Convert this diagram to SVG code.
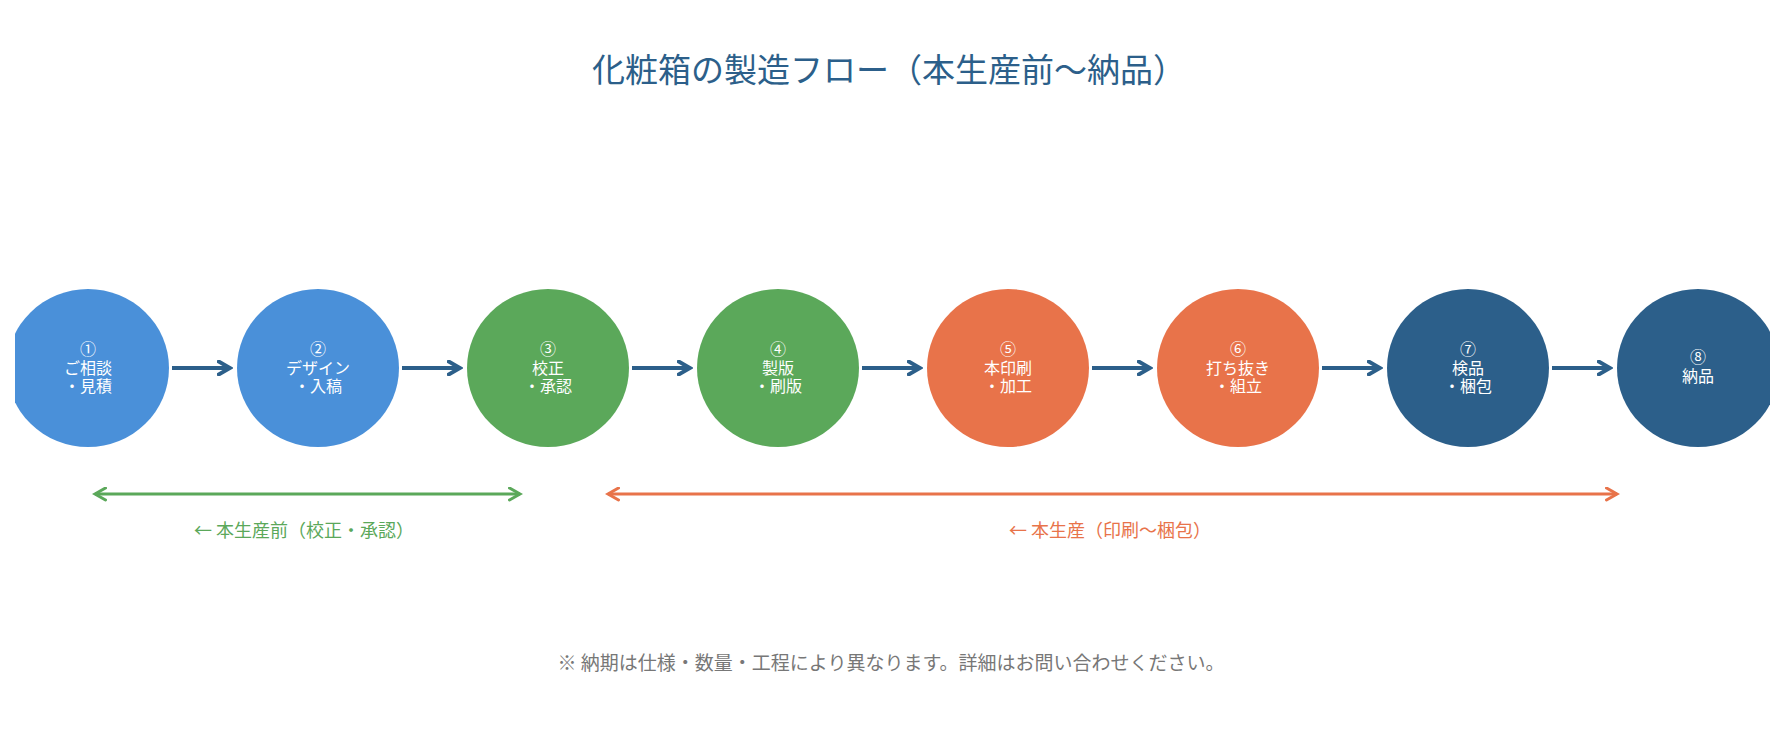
<svg xmlns="http://www.w3.org/2000/svg" width="1785" height="735" viewBox="0 0 1785 735">
<style>
text{font-family:"Noto Sans CJK JP","Noto Sans",sans-serif}
.n{fill:#fff;font-size:16px;text-anchor:middle}
.b{fill:#4a90d9}.g{fill:#5ba85a}.o{fill:#e8734a}.d{fill:#2c5f8a}
.ar{stroke:#2c5f8a;stroke-width:4;fill:none}
</style>
<defs>
<clipPath id="c"><rect x="15" y="0" width="1755" height="735"/></clipPath>
<marker id="ah" viewBox="0 0 10 10" refX="8" refY="5" markerWidth="4" markerHeight="4" orient="auto"><path d="M1,1 L8,5 L1,9" fill="none" stroke="#2c5f8a" stroke-width="2.5" stroke-linecap="round"/></marker>
<marker id="gh" viewBox="0 0 10 10" refX="8" refY="5" markerWidth="5" markerHeight="5" orient="auto-start-reverse"><path d="M1,1 L8,5 L1,9" fill="none" stroke="#5ba85a" stroke-width="2" stroke-linecap="round"/></marker>
<marker id="oh" viewBox="0 0 10 10" refX="8" refY="5" markerWidth="5" markerHeight="5" orient="auto-start-reverse"><path d="M1,1 L8,5 L1,9" fill="none" stroke="#e8734a" stroke-width="2" stroke-linecap="round"/></marker>
</defs>
<rect width="1785" height="735" fill="#fff"/>
<text x="889" y="82" font-size="33" fill="#2c5f8a" text-anchor="middle">化粧箱の製造フロー（本生産前〜納品）</text>
<g clip-path="url(#c)">
<g id="n1"><ellipse class="b" cx="88" cy="368" rx="81" ry="79"/><text class="n" x="88" y="355">①</text><text class="n" x="88" y="374">ご相談</text><text class="n" x="88" y="392">・見積</text></g>
<g id="n2"><ellipse class="b" cx="318" cy="368" rx="81" ry="79"/><text class="n" x="318" y="355">②</text><text class="n" x="318" y="374">デザイン</text><text class="n" x="318" y="392">・入稿</text></g>
<g id="n3"><ellipse class="g" cx="548" cy="368" rx="81" ry="79"/><text class="n" x="548" y="355">③</text><text class="n" x="548" y="374">校正</text><text class="n" x="548" y="392">・承認</text></g>
<g id="n4"><ellipse class="g" cx="778" cy="368" rx="81" ry="79"/><text class="n" x="778" y="355">④</text><text class="n" x="778" y="374">製版</text><text class="n" x="778" y="392">・刷版</text></g>
<g id="n5"><ellipse class="o" cx="1008" cy="368" rx="81" ry="79"/><text class="n" x="1008" y="355">⑤</text><text class="n" x="1008" y="374">本印刷</text><text class="n" x="1008" y="392">・加工</text></g>
<g id="n6"><ellipse class="o" cx="1238" cy="368" rx="81" ry="79"/><text class="n" x="1238" y="355">⑥</text><text class="n" x="1238" y="374">打ち抜き</text><text class="n" x="1238" y="392">・組立</text></g>
<g id="n7"><ellipse class="d" cx="1468" cy="368" rx="81" ry="79"/><text class="n" x="1468" y="355">⑦</text><text class="n" x="1468" y="374">検品</text><text class="n" x="1468" y="392">・梱包</text></g>
<g id="n8"><ellipse class="d" cx="1698" cy="368" rx="81" ry="79"/><text class="n" x="1698" y="363">⑧</text><text class="n" x="1698" y="382">納品</text></g>
</g>
<g id="connectors">
<line class="ar" x1="172" y1="368" x2="230" y2="368" marker-end="url(#ah)"/>
<line class="ar" x1="402" y1="368" x2="460" y2="368" marker-end="url(#ah)"/>
<line class="ar" x1="632" y1="368" x2="690" y2="368" marker-end="url(#ah)"/>
<line class="ar" x1="862" y1="368" x2="920" y2="368" marker-end="url(#ah)"/>
<line class="ar" x1="1092" y1="368" x2="1150" y2="368" marker-end="url(#ah)"/>
<line class="ar" x1="1322" y1="368" x2="1380" y2="368" marker-end="url(#ah)"/>
<line class="ar" x1="1552" y1="368" x2="1610" y2="368" marker-end="url(#ah)"/>
<line x1="95" y1="494" x2="520" y2="494" stroke="#5ba85a" stroke-width="3" marker-start="url(#gh)" marker-end="url(#gh)"/>
<line x1="608" y1="494" x2="1617" y2="494" stroke="#e8734a" stroke-width="3" marker-start="url(#oh)" marker-end="url(#oh)"/>
</g>
<text x="304" y="537" font-size="18" fill="#5ba85a" text-anchor="middle">←  本生産前（校正・承認）</text>
<text x="1110" y="537" font-size="18" fill="#e8734a" text-anchor="middle">←  本生産（印刷〜梱包）</text>
<text x="891" y="670" font-size="19" fill="#777" text-anchor="middle">※  納期は仕様・数量・工程により異なります。詳細はお問い合わせください。</text>
</svg>
